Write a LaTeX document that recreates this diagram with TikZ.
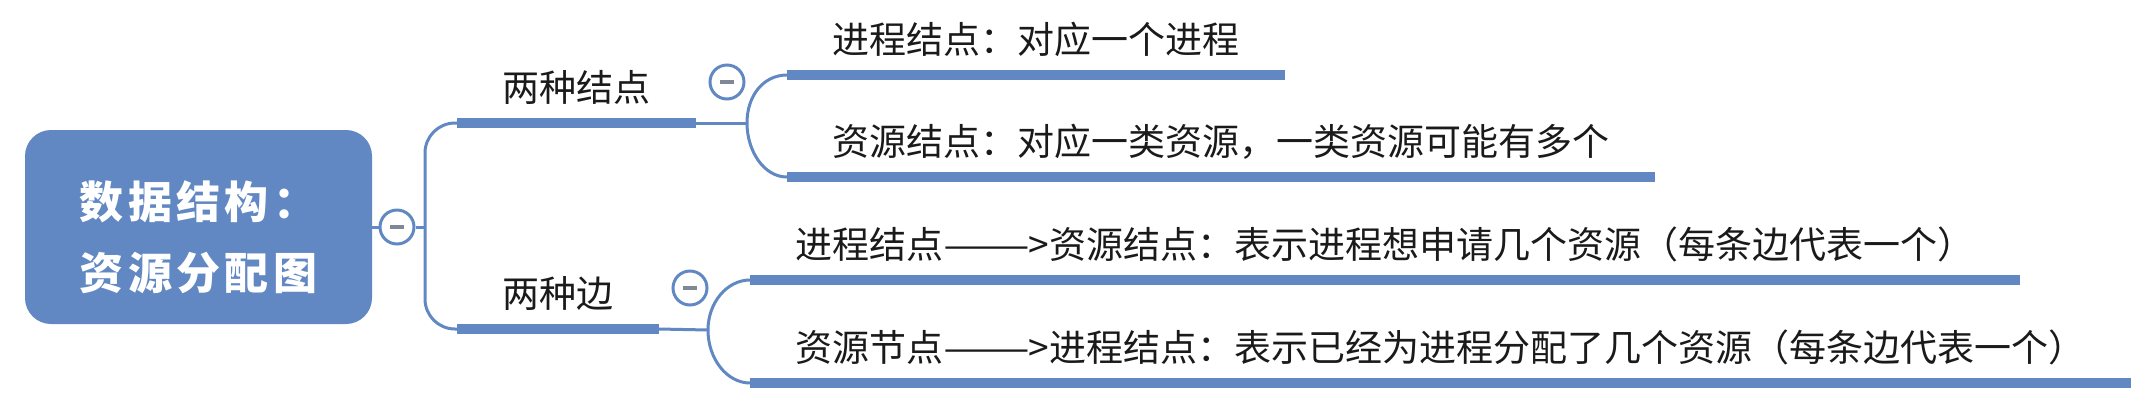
\documentclass[tikz,border=0pt]{standalone}
\usepackage{fontspec}
\usepackage{graphicx}
\usetikzlibrary{calc}
\newfontfamily\cjk{Noto Sans CJK SC}
\newfontfamily\cjkroot{Noto Sans CJK SC}[LetterSpace=10]
\definecolor{mmblue}{HTML}{6188C2}
\definecolor{mmgray}{HTML}{7F8896}
\definecolor{mmtext}{HTML}{1A1A1A}
\newcommand{\arr}{\scalebox{1.4}[1]{——}\kern-1pt>\kern0.5pt}
\begin{document}
\begin{tikzpicture}[x=0.5pt,y=-0.5pt,
  conn/.style={draw=mmblue, line width=1.5pt},
  bar/.style={draw=mmblue, line width=5pt},
  lbl/.style={anchor=south west, inner xsep=22.5pt, inner ysep=0pt, text depth=10.5pt,
    font=\cjk\fontsize{18.5pt}{22pt}\selectfont, text=mmtext},
  rootbox/.style={fill=mmblue, rounded corners=13pt, minimum width=173.5pt, minimum height=97pt,
    text=white, align=center, inner sep=0pt, text height=72.7pt, text depth=10pt,
    font=\cjkroot\bfseries\fontsize{22pt}{35.5pt}\selectfont},
  fold/.style={circle, draw=mmblue, line width=1.5pt, fill=white, minimum size=17pt, inner sep=0pt},
  minus/.style={draw=mmgray, line width=2pt}
]
\path[use as bounding box] (0,0) rectangle (2144,414);

\node[rootbox] (root) at (198.5,227) {数据结构：\\资源分配图};
\node[fold] (f0) at (397,227) {};
\coordinate (j0) at (425,227);
\node[lbl] (n1) at (457,123) {两种结点};
\node[lbl] (n2) at (457,329) {两种边};
\node[fold] (f1) at (727,82) {};
\node[fold] (f2) at (690,288) {};
\coordinate (j1) at (747,123);
\coordinate (j2) at (708,330);
\node[lbl] (a1) at (787,75) {进程结点：对应一个进程};
\node[lbl] (a2) at (787,177) {资源结点：对应一类资源，一类资源可能有多个};
\node[lbl] (b1) at (750,280) {进程结点\arr 资源结点：表示进程想申请几个资源（每条边代表一个）};
\node[lbl] (b2) at (750,383) {资源节点\arr 进程结点：表示已经为进程分配了几个资源（每条边代表一个）};

\foreach \n in {n1,n2,a1,a2,b1,b2} \draw[bar] (\n.south west) -- (\n.south east);

\draw[conn] (root.east) -- (f0.west);
\draw[conn] (f0.east) -- (j0);
\draw[conn, rounded corners=15pt] (n1.south west) -| (j0) |- (n2.south west);

\draw[conn] (n1.south east) -- (j1);
\draw[conn] (j1) .. controls ($(j1)+(0,-27.5)$) and ($(a1.south west)+(-23.5,0)$) .. (a1.south west);
\draw[conn] (j1) .. controls ($(j1)+(0,27.5)$) and ($(a2.south west)+(-23.5,0)$) .. (a2.south west);

\draw[conn] (n2.south east) -- (j2);
\draw[conn] (j2) .. controls ($(j2)+(0,-27.5)$) and ($(b1.south west)+(-23,0)$) .. (b1.south west);
\draw[conn] (j2) .. controls ($(j2)+(0,29)$) and ($(b2.south west)+(-23,0)$) .. (b2.south west);

\foreach \f in {f0,f1,f2}
  \draw[minus] ($(\f.center)+(-7,0)$) -- ($(\f.center)+(7,0)$);
\end{tikzpicture}
\end{document}
